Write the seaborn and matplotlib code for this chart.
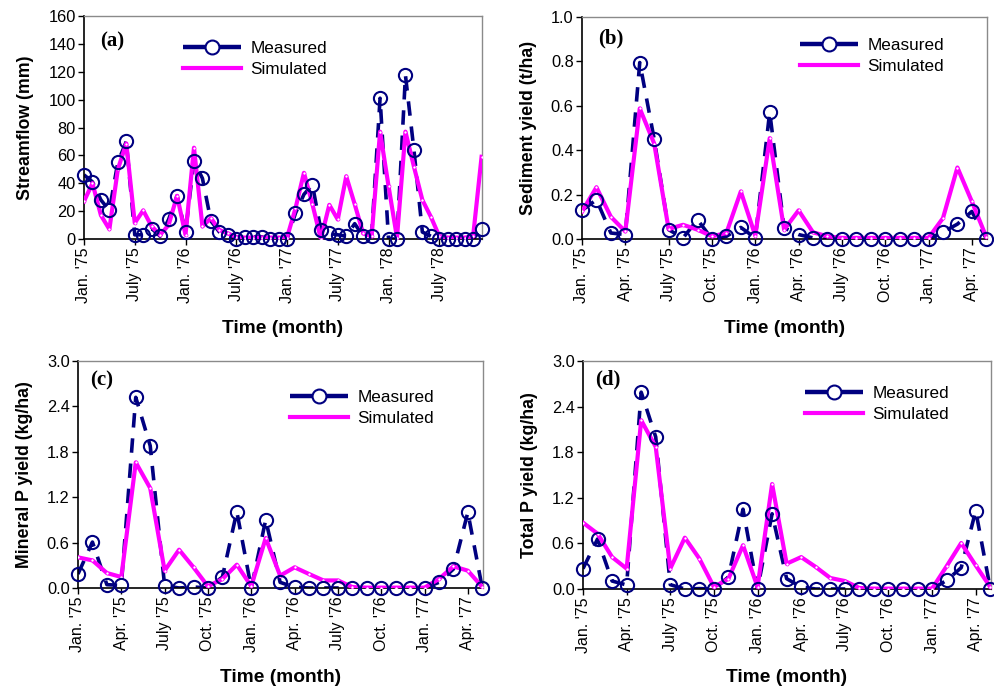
import numpy as np
import pandas as pd
import seaborn as sns
import matplotlib.pyplot as plt
from matplotlib.lines import Line2D

# --- data (monthly values) ---
# (a) streamflow, Jan '75 - Dec '78
flow_measured = [46, 41, 28, 20.5, 55, 70, 3, 3, 7.5, 2, 14, 31, 5, 56, 43.5, 13, 5, 3, 0,
                 1.5, 1.5, 1.5, 0, 0, 0, 18.5, 32, 39, 6.5, 4, 3, 2, 11, 2, 2.5, 101, 0, 0,
                 117.5, 64, 5, 2, 0, 0, 0, 0, 0, 7]
flow_simulated = [27, 40, 17, 7, 50, 68.5, 11.5, 20.5, 9, 3, 10, 31, 3, 65.5, 9, 15, 6.5, 4,
                  1.5, 1, 1, 1, 1, 1, 1, 22, 47.5, 25, 0, 24.5, 14, 45, 25, 4, 2, 77, 38, 1,
                  77, 52, 28, 16, 2, 1, 1, 1, 2, 59]

# (b) sediment yield, Jan '75 - May '77
sed_measured = [0.129, 0.177, 0.027, 0.02, 0.795, 0.45, 0.042, 0.005, 0.087, 0.0, 0.012,
                0.052, 0.005, 0.572, 0.05, 0.02, 0.005, 0.0, 0.0, 0.0, 0.0, 0.0, 0.0, 0.0,
                0.0, 0.031, 0.067, 0.124, 0.002]
sed_simulated = [0.124, 0.233, 0.10, 0.034, 0.588, 0.43, 0.045, 0.064, 0.042, 0.012, 0.027,
                 0.214, 0.015, 0.454, 0.042, 0.129, 0.03, 0.012, 0.005, 0.005, 0.005, 0.005,
                 0.005, 0.005, 0.005, 0.094, 0.322, 0.169, 0.009]

# (c) mineral P yield
minp_measured = [0.185, 0.607, 0.044, 0.035, 2.52, 1.88, 0.03, 0.0, 0.013, 0.0, 0.145, 1.01,
                 0.0, 0.90, 0.075, 0.01, 0.0, 0.0, 0.0, 0.0, 0.0, 0.0, 0.0, 0.0, 0.0, 0.075,
                 0.25, 1.0, 0.0]
minp_simulated = [0.405, 0.365, 0.198, 0.145, 1.66, 1.32, 0.229, 0.506, 0.273, 0.022, 0.119,
                  0.308, 0.022, 0.66, 0.163, 0.273, 0.185, 0.10, 0.10, 0.013, 0.005, 0.005,
                  0.005, 0.005, 0.005, 0.119, 0.286, 0.229, 0.013]

# (d) total P yield
totp_measured = [0.268, 0.658, 0.105, 0.053, 2.59, 2.0, 0.057, 0.0, 0.005, 0.0, 0.158, 1.05,
                 0.0, 0.99, 0.136, 0.026, 0.0, 0.0, 0.0, 0.0, 0.0, 0.0, 0.0, 0.0, 0.0, 0.114,
                 0.28, 1.03, 0.005]
totp_simulated = [0.873, 0.728, 0.42, 0.268, 2.22, 1.87, 0.268, 0.675, 0.40, 0.026, 0.136,
                  0.575, 0.026, 1.38, 0.333, 0.42, 0.29, 0.145, 0.105, 0.013, 0.005, 0.005,
                  0.005, 0.005, 0.005, 0.30, 0.605, 0.31, 0.026]

labels_long = ["Jan. '75", "July '75", "Jan. '76", "July '76",
               "Jan. '77", "July '77", "Jan. '78", "July '78"]
labels_short = ["Jan. '75", "Apr. '75", "July '75", "Oct. '75", "Jan. '76",
                "Apr. '76", "July '76", "Oct. '76", "Jan. '77", "Apr. '77"]

NAVY = '#000080'
PINK = '#ff00ff'

plt.rcParams['font.family'] = ['Liberation Sans', 'DejaVu Sans']

fig = plt.figure(figsize=(9.95, 6.88), dpi=100)


def draw_panel(rect, measured, simulated, ylim, yticks, tick_step, tick_labels,
               ylabel, tag, legend_xy, tag_xy):
    ax = fig.add_axes(rect)
    df = pd.DataFrame({'month': np.arange(len(measured)),
                       'Measured': measured, 'Simulated': simulated})

    # measured dashed line, then simulated, then open circles on top
    sns.lineplot(data=df, x='month', y='Measured', ax=ax, color=NAVY, linewidth=2.6,
                 linestyle=(0, (4, 3)), zorder=2)
    sns.lineplot(data=df, x='month', y='Simulated', ax=ax, color=PINK, linewidth=3,
                 marker='o', markersize=2.2, markerfacecolor='white',
                 markeredgecolor=PINK, markeredgewidth=0.5, zorder=3)
    sns.lineplot(data=df, x='month', y='Measured', ax=ax, color=NAVY, linestyle='none',
                 marker='o', markersize=9.5, markerfacecolor='none',
                 markeredgecolor=NAVY, markeredgewidth=1.5, zorder=4, clip_on=False)

    n = len(measured)
    ax.set_xlim(0, n - 1 + 0.05)
    ax.set_ylim(*ylim)
    ax.set_yticks(yticks)
    ax.set_yticklabels([f'{t:g}' if isinstance(t, int) else f'{t:.1f}' for t in yticks],
                       fontsize=11.8)
    ax.set_xticks(np.arange(0, n, tick_step)[:len(tick_labels)])
    ax.set_xticklabels(tick_labels, rotation=90, fontsize=11.5)
    ax.tick_params(axis='both', direction='out', length=4, width=1, pad=2)

    ax.set_xlabel('Time (month)', fontsize=13.8, fontweight='bold', labelpad=12)
    ax.set_ylabel(ylabel, fontsize=12.8, fontweight='bold', labelpad=10)

    for side in ['top', 'right']:
        ax.spines[side].set_color('#8a8a8a')
        ax.spines[side].set_linewidth(1)
    for side in ['left', 'bottom']:
        ax.spines[side].set_color('black')
        ax.spines[side].set_linewidth(1.2)

    ax.text(tag_xy[0], tag_xy[1], tag, transform=ax.transAxes, fontsize=15,
            fontweight='bold', family=['Liberation Serif', 'DejaVu Serif'],
            va='center', ha='left')

    handles = [Line2D([], [], color=NAVY, linewidth=3.2, linestyle=(0, (6.5, 1.2)),
                      marker='o', markersize=10, markerfacecolor='white',
                      markeredgecolor=NAVY, markeredgewidth=1.5),
               Line2D([], [], color=PINK, linewidth=3)]
    ax.legend(handles, ['Measured', 'Simulated'], loc='center left',
              bbox_to_anchor=legend_xy, frameon=False,
              fontsize=12.3, handlelength=3.4, handletextpad=0.55,
              labelspacing=0.35, borderpad=0, borderaxespad=0)
    return ax


draw_panel([84 / 995, 1 - 239 / 688, 398 / 995, 223 / 688],
           flow_measured, flow_simulated, (0, 160), list(range(0, 161, 20)), 6,
           labels_long, 'Streamflow (mm)', '(a)', (0.249, 0.807), (0.04, 0.885))
draw_panel([582 / 995, 1 - 239 / 688, 405 / 995, 222 / 688],
           sed_measured, sed_simulated, (0, 1.0), [0.0, 0.2, 0.4, 0.6, 0.8, 1.0], 3,
           labels_short, 'Sediment yield (t/ha)', '(b)', (0.538, 0.824), (0.04, 0.905))
draw_panel([78 / 995, 1 - 588 / 688, 405 / 995, 227 / 688],
           minp_measured, minp_simulated, (0, 3.0), [0.0, 0.6, 1.2, 1.8, 2.4, 3.0], 3,
           labels_short, 'Mineral P yield (kg/ha)', '(c)', (0.523, 0.795), (0.03, 0.915))
draw_panel([583 / 995, 1 - 589 / 688, 408 / 995, 228 / 688],
           totp_measured, totp_simulated, (0, 3.0), [0.0, 0.6, 1.2, 1.8, 2.4, 3.0], 3,
           labels_short, 'Total P yield (kg/ha)', '(d)', (0.544, 0.811), (0.03, 0.92))

fig.savefig('out.png', dpi=100)
